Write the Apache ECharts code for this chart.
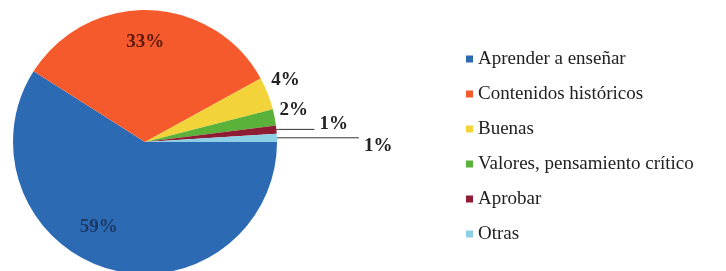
<!DOCTYPE html>
<html>
<head>
<meta charset="utf-8">
<script src="https://cdn.jsdelivr.net/npm/echarts@6/dist/echarts.min.js"></script>
<style>
  html, body { margin: 0; padding: 0; background: #fff; }
  #chart { width: 726px; height: 271px; }
</style>
</head>
<body>
<div id="chart"></div>
<script>
var categories = ['Aprender a enseñar', 'Contenidos históricos', 'Buenas', 'Valores, pensamiento crítico', 'Aprobar', 'Otras']
var values = [59, 33, 4, 2, 1, 1]
var colors = ['#2d6ab4', '#f55a2d', '#f2d43a', '#5bb23b', '#8e1d33', '#8dd0e6']

// desplazamiento de etiquetas respecto a la posición por defecto
var labelShift = [[-27, 19], [-2, -31], [-7, -11], [-6, -6], [0, -5], [0, 8]]

var chart = echarts.init(document.getElementById('chart'))

var pieData = []
for (var i = 0; i < categories.length; i++) {
  var item = { name: categories[i], value: values[i], itemStyle: { color: colors[i] } }
  if (i === 0) {
    item.label = { position: 'inside', color: '#1b3a68' }
  } else if (i === 1) {
    item.label = { position: 'inside', color: '#5a1a0e' }
  } else if (i < 4) {
    item.label = { position: 'outside' }
    item.labelLine = { show: false, length: 6, length2: 0 }
  } else {
    item.label = { position: 'outside' }
    item.labelLine = { show: true, length: 2, length2: i === 4 ? 36 : 80, lineStyle: { color: '#333', width: 1 } }
  }
  pieData.push(item)
}

chart.setOption({
  animation: false,
  legend: {
    orient: 'vertical',
    left: 461,
    top: 44,
    icon: 'rect',
    itemWidth: 7,
    itemHeight: 7,
    itemGap: 15,
    textStyle: {
      fontFamily: 'Liberation Serif',
      fontSize: 19,
      lineHeight: 20,
      color: '#222'
    },
    data: categories
  },
  series: [
    {
      type: 'pie',
      center: [145, 142],
      radius: 132,
      startAngle: 0,
      clockwise: true,
      avoidLabelOverlap: false,
      data: pieData,
      label: {
        formatter: '{c}%',
        fontFamily: 'Liberation Serif',
        fontWeight: 'bold',
        fontSize: 19,
        color: '#222'
      },
      labelLayout: function (params) {
        var s = labelShift[params.dataIndex]
        return { dx: s[0], dy: s[1] }
      }
    }
  ]
})
</script>
</body>
</html>
